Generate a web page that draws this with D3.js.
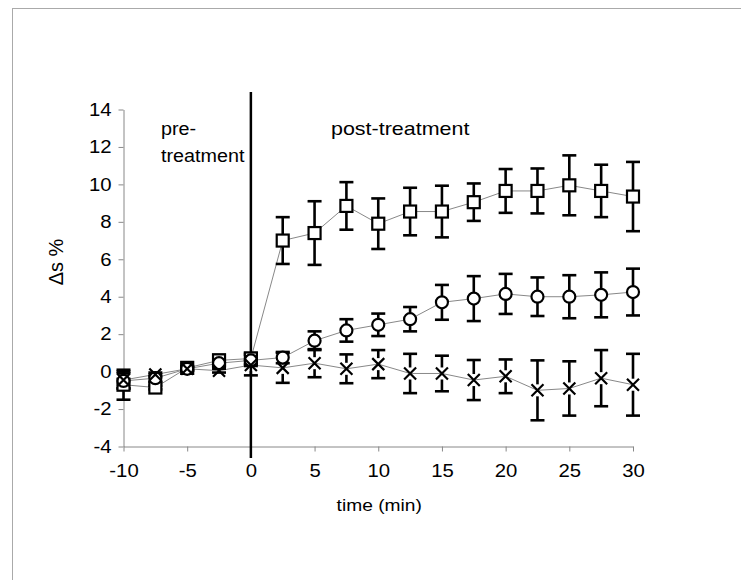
<!DOCTYPE html>
<html>
<head>
<meta charset="utf-8">
<script src="https://cdn.jsdelivr.net/npm/d3@7/dist/d3.min.js"></script>
<style>
  body { margin: 0; background: #fff; }
  svg { display: block; font-family: 'Liberation Sans', Arial, sans-serif; }
</style>
</head>
<body>
<div id="viz"></div>
<script>
// time points (min)
const times = [-10, -7.5, -5, -2.5, 0, 2.5, 5, 7.5, 10, 12.5, 15, 17.5, 20, 22.5, 25, 27.5, 30];

// square series
const squareMean = [-0.7, -0.85, 0.2, 0.6, 0.7, 7.0, 7.4, 8.85, 7.9, 8.55, 8.55, 9.05, 9.65, 9.65, 9.95, 9.65, 9.35];
const squareErr  = [0.8, 0.1, 0.1, 0.3, 0.3, 1.25, 1.7, 1.27, 1.35, 1.27, 1.38, 1.0, 1.17, 1.2, 1.6, 1.4, 1.85];

// circle series
const circleMean = [-0.5, -0.35, 0.15, 0.45, 0.6, 0.75, 1.65, 2.2, 2.5, 2.8, 3.7, 3.9, 4.15, 4.0, 4.0, 4.1, 4.25];
const circleErr  = [0.4, 0.2, 0.1, 0.2, 0.3, 0.3, 0.5, 0.6, 0.6, 0.65, 0.93, 1.2, 1.07, 1.03, 1.15, 1.2, 1.25];

// cross series
const crossMean = [-0.45, -0.15, 0.15, 0.05, 0.35, 0.2, 0.45, 0.15, 0.4, -0.1, -0.1, -0.45, -0.25, -1.0, -0.9, -0.35, -0.7];
const crossErr  = [0.45, 0.1, 0.1, 0.1, 0.55, 0.8, 0.75, 0.77, 0.75, 1.05, 0.95, 1.07, 0.9, 1.6, 1.45, 1.5, 1.65];

const xTicks = [-10, -5, 0, 5, 10, 15, 20, 25, 30];
const yTicks = [-4, -2, 0, 2, 4, 6, 8, 10, 12, 14];

const W = 741, H = 580;
const stretch = 1.13; // the original type is set a little wide
const svg = d3.select('#viz').append('svg')
  .attr('width', W).attr('height', H);

// outer frame
svg.append('line').attr('x1', 12).attr('y1', 8.5).attr('x2', W).attr('y2', 8.5)
  .attr('stroke', '#aaa').attr('stroke-width', 1);
svg.append('line').attr('x1', 12.5).attr('y1', 8).attr('x2', 12.5).attr('y2', H)
  .attr('stroke', '#aaa').attr('stroke-width', 1);

const x = d3.scaleLinear().domain([-10, 30]).range([123.5, 633]);
const y = d3.scaleLinear().domain([-4, 14]).range([446.5, 109.5]);

const fmt = d => d < 0 ? '-' + Math.abs(d) : String(d);

// axes
const xAxis = svg.append('g')
  .attr('transform', `translate(0,${y(-4)})`)
  .call(d3.axisBottom(x).tickValues(xTicks).tickSize(5).tickSizeOuter(0).tickFormat(fmt));
const yAxis = svg.append('g')
  .attr('transform', `translate(${x(-10)},0)`)
  .call(d3.axisLeft(y).tickValues(yTicks).tickSize(5).tickSizeOuter(0).tickFormat(fmt));

[xAxis, yAxis].forEach(g => {
  g.select('.domain').attr('stroke', '#888').attr('stroke-width', 1);
  g.selectAll('.tick line').attr('stroke', '#888');
  g.selectAll('.tick text')
    .attr('fill', '#000')
    .attr('transform', `scale(${stretch},1)`)
    .style('font-size', '18px')
    .style('font-family', "'Liberation Sans', Arial, sans-serif");
});
xAxis.selectAll('.tick text').attr('dy', 0).attr('y', 31);
yAxis.selectAll('.tick text').attr('x', -12 / stretch);

// plain text helper, stretched horizontally around its anchor
function label(tx, ty, str, size, anchor) {
  svg.append('text')
    .attr('transform', `translate(${tx},${ty}) scale(${stretch},1)`)
    .attr('text-anchor', anchor || 'start')
    .style('font-size', size + 'px')
    .text(str);
}

// axis titles
label((x(-10) + x(30)) / 2 + 1, 511, 'time (min)', 17, 'middle');
svg.append('text')
  .attr('transform', 'translate(63,262) rotate(-90)')
  .attr('text-anchor', 'middle')
  .style('font-size', '20px')
  .text('\u0394s %');

// treatment divider
svg.append('line')
  .attr('x1', x(0)).attr('x2', x(0))
  .attr('y1', 92).attr('y2', 458)
  .attr('stroke', '#000').attr('stroke-width', 2.5);

label(161, 135, 'pre-', 17.5);
label(161, 162, 'treatment', 17.5);
label(331, 135, 'post-treatment', 19);

const series = [
  { mean: squareMean, err: squareErr, shape: 'square' },
  { mean: circleMean, err: circleErr, shape: 'circle' },
  { mean: crossMean, err: crossErr, shape: 'cross' }
];

const line = vals => d3.line().x((d, i) => x(times[i])).y(d => y(d))(vals);

// connecting lines
series.forEach(s => {
  svg.append('path')
    .attr('d', line(s.mean))
    .attr('fill', 'none')
    .attr('stroke', '#888')
    .attr('stroke-width', 1);
});

// error bars
const gap = 6;
const capW = 7;
series.forEach(s => {
  const g = svg.append('g').attr('stroke', '#000').attr('stroke-width', 2.6);
  times.forEach((t, i) => {
    const cx = x(t), cy = y(s.mean[i]);
    const top = y(s.mean[i] + s.err[i]);
    const bot = y(s.mean[i] - s.err[i]);
    if (cy - top > gap) {
      g.append('line').attr('x1', cx).attr('x2', cx).attr('y1', cy - gap).attr('y2', top);
    }
    if (bot - cy > gap) {
      g.append('line').attr('x1', cx).attr('x2', cx).attr('y1', cy + gap).attr('y2', bot);
    }
    g.append('line').attr('x1', cx - capW).attr('x2', cx + capW).attr('y1', top).attr('y2', top);
    g.append('line').attr('x1', cx - capW).attr('x2', cx + capW).attr('y1', bot).attr('y2', bot);
  });
});

// markers
series.forEach(s => {
  const g = svg.append('g');
  times.forEach((t, i) => {
    const cx = x(t), cy = y(s.mean[i]);
    if (s.shape === 'square') {
      g.append('rect')
        .attr('x', cx - 6).attr('y', cy - 6)
        .attr('width', 12).attr('height', 12)
        .attr('fill', '#fff').attr('stroke', '#000').attr('stroke-width', 2.2);
    } else if (s.shape === 'circle') {
      g.append('circle')
        .attr('cx', cx).attr('cy', cy).attr('r', 6)
        .attr('fill', '#fff').attr('stroke', '#000').attr('stroke-width', 2.2);
    } else {
      g.append('path')
        .attr('d', `M${cx - 6},${cy - 6}L${cx + 6},${cy + 6}M${cx - 6},${cy + 6}L${cx + 6},${cy - 6}`)
        .attr('stroke', '#000').attr('stroke-width', 2.2).attr('fill', 'none');
    }
  });
});
</script>
</body>
</html>
